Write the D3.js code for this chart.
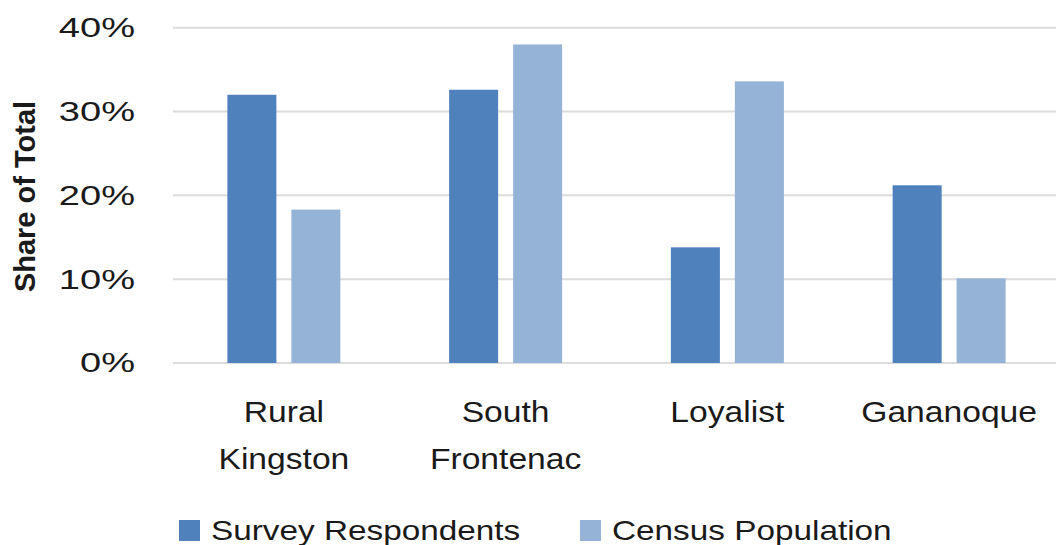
<!DOCTYPE html>
<html>
<head>
<meta charset="utf-8">
<script src="https://cdn.jsdelivr.net/npm/d3@7"></script>
<style>
  html, body { margin: 0; padding: 0; background: #fff; }
  svg { display: block; }
  text { font-family: "Liberation Sans", Arial, sans-serif; fill: #1a1a1a; }
</style>
</head>
<body>
<svg id="chart" width="1058" height="545"></svg>
<script>
// Share of total by municipality: survey respondents vs. census population
const categories = [["Rural", "Kingston"], ["South", "Frontenac"], ["Loyalist"], ["Gananoque"]];
const seriesNames = ["Survey Respondents", "Census Population"];
const surveyRespondents = [0.320, 0.326, 0.138, 0.212];
const censusPopulation  = [0.183, 0.380, 0.336, 0.101];
const yTicks = [0, 0.1, 0.2, 0.3, 0.4];
const colors = ["#4f81bd", "#95b3d7"];

const svg = d3.select("#chart");
const catKeys = categories.map(c => c.join(" "));

const x0 = d3.scaleBand().domain(catKeys).range([173, 1060]).padding(0);
const x1 = d3.scaleBand().domain(seriesNames).range([0, x0.bandwidth()])
  .paddingInner(0.234).paddingOuter(0.85);
const y = d3.scaleLinear().domain([0, 0.4]).range([363, 27.7]);
const color = d3.scaleOrdinal().domain(seriesNames).range(colors);
const fmt = d3.format(".0%");

// Gridlines
svg.append("g")
  .selectAll("line")
  .data(yTicks)
  .join("line")
  .attr("x1", 173).attr("x2", 1056)
  .attr("y1", d => y(d)).attr("y2", d => y(d))
  .attr("stroke", "#dcdcdc").attr("stroke-width", 2);

// Y tick labels (wide face: horizontally stretched glyphs)
svg.append("g").selectAll("text")
  .data(yTicks)
  .join("text")
  .attr("transform", d => `translate(135,${y(d)}) scale(1.41,1)`)
  .attr("text-anchor", "end")
  .attr("dy", "0.35em")
  .attr("font-size", 27)
  .text(d => fmt(d));

// Y axis title
svg.append("text")
  .attr("transform", "translate(35,196.5) rotate(-90)")
  .attr("text-anchor", "middle")
  .attr("font-size", 29).attr("font-weight", "bold")
  .text("Share of Total");

// Bars
const rows = catKeys.map((k, i) => ({ key: k, values: [surveyRespondents[i], censusPopulation[i]] }));
const groups = svg.append("g").selectAll("g")
  .data(rows)
  .join("g")
  .attr("transform", d => `translate(${x0(d.key)},0)`);
groups.selectAll("rect")
  .data(d => d.values.map((v, j) => ({ name: seriesNames[j], value: v })))
  .join("rect")
  .attr("x", d => x1(d.name))
  .attr("width", x1.bandwidth())
  .attr("y", d => y(d.value))
  .attr("height", d => y(0) - y(d.value))
  .attr("fill", d => color(d.name));

// Category labels
const labels = svg.append("g").selectAll("text")
  .data(categories)
  .join("text")
  .attr("transform", (d, i) => `translate(${x0(catKeys[i]) + x0.bandwidth() / 2},421.7) scale(1.16,1)`)
  .attr("text-anchor", "middle")
  .attr("font-size", 29);
labels.selectAll("tspan")
  .data(d => d)
  .join("tspan")
  .attr("x", 0)
  .attr("dy", (d, i) => i === 0 ? 0 : 47.6)
  .text(d => d);

// Legend
const legendX = [179, 580];
const legend = svg.append("g").selectAll("g")
  .data(seriesNames)
  .join("g")
  .attr("transform", (d, i) => `translate(${legendX[i]},520)`);
legend.append("rect").attr("width", 21).attr("height", 21).attr("fill", d => color(d));
legend.append("text")
  .attr("transform", "translate(32,19.5) scale(1.19,1)")
  .attr("font-size", 28)
  .text(d => d);
</script>
</body>
</html>
